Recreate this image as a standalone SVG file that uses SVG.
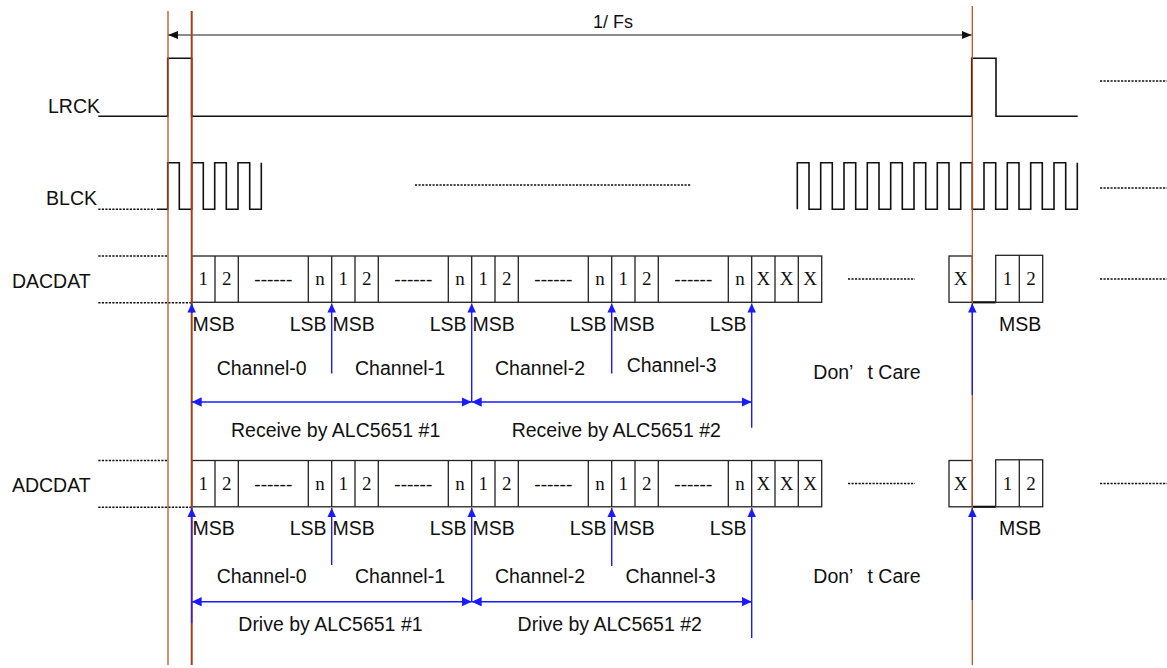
<svg xmlns="http://www.w3.org/2000/svg" width="1167" height="668" viewBox="0 0 1167 668">
<style>
.lbl{font-family:"Liberation Sans",Arial,sans-serif;font-size:19.5px;fill:#111}
.cell{font-family:"Liberation Serif","Times New Roman",serif;font-size:19px;fill:#111;text-anchor:middle}
.end{text-anchor:end}
.wave{fill:none;stroke:#111;stroke-width:1.6}
.dot{fill:none;stroke:#111;stroke-width:1.5;stroke-dasharray:2.2 1.3}
.box{fill:#fff;stroke:#222;stroke-width:1.3}
.div{stroke:#222;stroke-width:1.3}
.guide{stroke:#C2501E;stroke-width:1.3}
.guideb{stroke:#A3401A;stroke-width:2}
.up{stroke:#1a1aff;stroke-width:1.4;fill:none;marker-end:url(#bh)}
.span{stroke:#1a1aff;stroke-width:1.4;fill:none;marker-start:url(#bd);marker-end:url(#bd)}
.stub{stroke:#1a1aff;stroke-width:1.4;fill:none}
</style>
<defs>
<marker id="bh" markerUnits="userSpaceOnUse" markerWidth="9" markerHeight="9" refX="9" refY="4.25" orient="auto"><path d="M0,0 L9,4.25 L0,8.5 z" fill="#1a1aff"/></marker>
<marker id="bd" markerUnits="userSpaceOnUse" markerWidth="11" markerHeight="10" refX="10" refY="4.75" orient="auto-start-reverse"><path d="M0,0 L10,4.75 L0,9.5 z" fill="#1a1aff"/></marker>
<marker id="kh" markerUnits="userSpaceOnUse" markerWidth="11" markerHeight="9" refX="10" refY="4" orient="auto-start-reverse"><path d="M0,0 L10,4 L0,8 z" fill="#111"/></marker>
</defs>
<rect width="1167" height="668" fill="#fff"/>

<g id="lrck">
<text class="lbl end" x="100" y="113.3">LRCK</text>
<path class="wave" d="M98.3,116.3 H167.7 V58.3 H191.7 V116.3 H971.7 V58.3 H996 V116.3 H1077.7"/>
<path class="dot" d="M1100,81 H1167"/>
</g>

<g id="blck">
<text class="lbl end" x="97" y="205">BLCK</text>
<path class="dot" d="M98.3,209.3 H155"/>
<path class="wave" d="M156.7,209.3 H167.7 V162.7 H179.3 V209.3 H191.7 V162.7 H203.3 V209.3 H214.7 V162.7 H226.3 V209.3 H238 V162.7 H249.7 V209.3 H261.3 V162.7"/>
<path class="dot" d="M415,185 H691"/>
<path class="wave" d="M797.3,209.3 V162.7 H809 V209.3 H820.7 V162.7 H832.3 V209.3 H844 V162.7 H855.7 V209.3 H867.3 V162.7 H879 V209.3 H890.7 V162.7 H902.3 V209.3 H914 V162.7 H925.7 V209.3 H937.3 V162.7 H949 V209.3 H960.7 V162.7 H972.3 V209.3 H984 V162.7 H995.7 V209.3 H1007.3 V162.7 H1019 V209.3 H1030.7 V162.7 H1042.3 V209.3 H1054 V162.7 H1065.7 V209.3 H1077.3 V162.7"/>
<path class="dot" d="M1100,188 H1167"/>
</g>

<g id="dacdat">
<text class="lbl end" x="90.7" y="288.3">DACDAT</text>
<path class="dot" d="M98.3,256 H168 M98.3,302.7 H191"/>
<rect class="box" x="191.7" y="256" width="630" height="46.3"/>
<path class="div" d="M215,256 V302.3 M238.3,256 V302.3 M308.3,256 V302.3 M331.7,256 V302.3 M355,256 V302.3 M378.3,256 V302.3 M448.3,256 V302.3 M471.7,256 V302.3 M495,256 V302.3 M518.3,256 V302.3 M588.3,256 V302.3 M611.7,256 V302.3 M635,256 V302.3 M658.3,256 V302.3 M728.3,256 V302.3 M751.7,256 V302.3 M775,256 V302.3 M798.3,256 V302.3"/>
<text class="cell" x="203.3" y="285">1</text><text class="cell" x="226.7" y="285">2</text><text class="cell" x="273.3" y="285">------</text><text class="cell" x="320" y="285">n</text>
<text class="cell" x="343.3" y="285">1</text><text class="cell" x="366.7" y="285">2</text><text class="cell" x="413.3" y="285">------</text><text class="cell" x="460" y="285">n</text>
<text class="cell" x="483.3" y="285">1</text><text class="cell" x="506.7" y="285">2</text><text class="cell" x="553.3" y="285">------</text><text class="cell" x="600" y="285">n</text>
<text class="cell" x="623.3" y="285">1</text><text class="cell" x="646.7" y="285">2</text><text class="cell" x="693.3" y="285">------</text><text class="cell" x="740" y="285">n</text>
<text class="cell" x="763.3" y="285">X</text><text class="cell" x="786.7" y="285">X</text><text class="cell" x="810" y="285">X</text>
<path class="dot" d="M848,279 H915"/>
<rect class="box" x="949" y="256" width="23.3" height="46.3"/>
<text class="cell" x="960.7" y="285">X</text>
<path d="M972.3,302.3 H995.7" stroke="#111" stroke-width="2.2"/>
<rect class="box" x="995.7" y="255.3" width="47" height="47"/>
<path class="div" d="M1019.3,255.3 V302.3"/>
<text class="cell" x="1007.5" y="285">1</text><text class="cell" x="1031" y="285">2</text>
<path class="dot" d="M1100,279 H1167"/>
<text class="lbl" x="192.5" y="330.7">MSB</text>
<text class="lbl end" x="326.5" y="330.7">LSB</text><text class="lbl" x="332.5" y="330.7">MSB</text>
<text class="lbl end" x="466.5" y="330.7">LSB</text><text class="lbl" x="472.5" y="330.7">MSB</text>
<text class="lbl end" x="606.5" y="330.7">LSB</text><text class="lbl" x="612.5" y="330.7">MSB</text>
<text class="lbl end" x="746.5" y="330.7">LSB</text>
<text class="lbl" x="999" y="330.7">MSB</text>
<text class="lbl" x="216.7" y="375">Channel-0</text>
<text class="lbl" x="355" y="375">Channel-1</text>
<text class="lbl" x="495" y="375">Channel-2</text>
<text class="lbl" x="626.7" y="372">Channel-3</text>
<text class="lbl" x="813.3" y="379">Don’<tspan x="867.5">t Care</tspan></text>
<text class="lbl" x="231" y="436.8">Receive by ALC5651 #1</text>
<text class="lbl" x="511.7" y="436.8">Receive by ALC5651 #2</text>
</g>

<g id="adcdat">
<text class="lbl end" x="90.7" y="491.7">ADCDAT</text>
<path class="dot" d="M98.3,460.5 H168 M98.3,507.2 H191"/>
<rect class="box" x="191.7" y="460.5" width="630" height="46.3"/>
<path class="div" d="M215,460.5 V506.8 M238.3,460.5 V506.8 M308.3,460.5 V506.8 M331.7,460.5 V506.8 M355,460.5 V506.8 M378.3,460.5 V506.8 M448.3,460.5 V506.8 M471.7,460.5 V506.8 M495,460.5 V506.8 M518.3,460.5 V506.8 M588.3,460.5 V506.8 M611.7,460.5 V506.8 M635,460.5 V506.8 M658.3,460.5 V506.8 M728.3,460.5 V506.8 M751.7,460.5 V506.8 M775,460.5 V506.8 M798.3,460.5 V506.8"/>
<text class="cell" x="203.3" y="489.5">1</text><text class="cell" x="226.7" y="489.5">2</text><text class="cell" x="273.3" y="489.5">------</text><text class="cell" x="320" y="489.5">n</text>
<text class="cell" x="343.3" y="489.5">1</text><text class="cell" x="366.7" y="489.5">2</text><text class="cell" x="413.3" y="489.5">------</text><text class="cell" x="460" y="489.5">n</text>
<text class="cell" x="483.3" y="489.5">1</text><text class="cell" x="506.7" y="489.5">2</text><text class="cell" x="553.3" y="489.5">------</text><text class="cell" x="600" y="489.5">n</text>
<text class="cell" x="623.3" y="489.5">1</text><text class="cell" x="646.7" y="489.5">2</text><text class="cell" x="693.3" y="489.5">------</text><text class="cell" x="740" y="489.5">n</text>
<text class="cell" x="763.3" y="489.5">X</text><text class="cell" x="786.7" y="489.5">X</text><text class="cell" x="810" y="489.5">X</text>
<path class="dot" d="M848,483.5 H915"/>
<rect class="box" x="949" y="460.5" width="23.3" height="46.3"/>
<text class="cell" x="960.7" y="489.5">X</text>
<path d="M972.3,506.8 H995.7" stroke="#111" stroke-width="2.2"/>
<rect class="box" x="995.7" y="459.8" width="47" height="47"/>
<path class="div" d="M1019.3,459.8 V506.8"/>
<text class="cell" x="1007.5" y="489.5">1</text><text class="cell" x="1031" y="489.5">2</text>
<path class="dot" d="M1100,483.5 H1167"/>
<text class="lbl" x="192.5" y="535.2">MSB</text>
<text class="lbl end" x="326.5" y="535.2">LSB</text><text class="lbl" x="332.5" y="535.2">MSB</text>
<text class="lbl end" x="466.5" y="535.2">LSB</text><text class="lbl" x="472.5" y="535.2">MSB</text>
<text class="lbl end" x="606.5" y="535.2">LSB</text><text class="lbl" x="612.5" y="535.2">MSB</text>
<text class="lbl end" x="746.5" y="535.2">LSB</text>
<text class="lbl" x="999" y="535.2">MSB</text>
<text class="lbl" x="216.7" y="583.3">Channel-0</text>
<text class="lbl" x="355" y="583.3">Channel-1</text>
<text class="lbl" x="495" y="583.3">Channel-2</text>
<text class="lbl" x="625.5" y="583.3">Channel-3</text>
<text class="lbl" x="813.3" y="583.3">Don’<tspan x="867.5">t Care</tspan></text>
<text class="lbl" x="238.3" y="631">Drive by ALC5651 #1</text>
<text class="lbl" x="517.6" y="631">Drive by ALC5651 #2</text>
</g>

<g id="connectors">
<line x1="168" y1="35" x2="971.7" y2="35" stroke="#666" stroke-width="1.6" marker-start="url(#kh)" marker-end="url(#kh)"/>
<text class="lbl" x="613" y="28" text-anchor="middle" style="font-size:18px">1/ Fs</text>
<line class="guide" x1="168" y1="11" x2="168" y2="665"/>
<line class="guideb" x1="191.7" y1="11" x2="191.7" y2="665"/>
<line class="guide" x1="972.3" y1="6" x2="972.3" y2="665"/>
<path class="up" d="M191.7,313 V303.5"/>
<path class="up" d="M331.7,373.6 V303.5"/>
<path class="up" d="M471.7,402 V303.5"/>
<path class="up" d="M611.7,373.6 V303.5"/>
<path class="up" d="M751.7,427.7 V303.5"/>
<path class="up" d="M972.3,395 V303.5"/>
<path class="span" d="M191.7,402 H471.7"/>
<path class="span" d="M471.7,402 H751.7"/>
<path class="up" d="M191.7,623.3 V508" style="stroke:#3b1fd6"/>
<path class="up" d="M331.7,565 V508"/>
<path class="up" d="M471.7,601.7 V508"/>
<path class="up" d="M611.7,566 V508"/>
<path class="up" d="M751.7,638 V508"/>
<path class="up" d="M972.3,600 V508"/>
<path class="span" d="M191.7,601.7 H471.7"/>
<path class="span" d="M471.7,601.7 H751.7"/>
</g>
</svg>
